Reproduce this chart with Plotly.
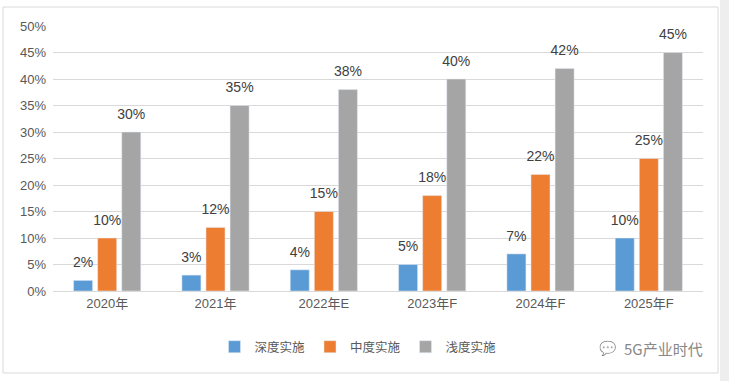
import plotly.graph_objects as go

categories = ["2020年", "2021年", "2022年E", "2023年F", "2024年F", "2025年F"]
deep = [0.02, 0.03, 0.04, 0.05, 0.07, 0.10]
medium = [0.10, 0.12, 0.15, 0.18, 0.22, 0.25]
shallow = [0.30, 0.35, 0.38, 0.40, 0.42, 0.45]
series_names = ["深度实施", "中度实施", "浅度实施"]
colors = ["#5B9BD5", "#ED7D31", "#A5A5A5"]
y_ticks = [0, 0.05, 0.10, 0.15, 0.20, 0.25, 0.30, 0.35, 0.40, 0.45, 0.50]

FONT = "Liberation Sans, Noto Sans CJK SC, sans-serif"

fig = go.Figure()
for i, (name, vals, c) in enumerate(zip(series_names, [deep, medium, shallow], colors)):
    fig.add_trace(go.Bar(
        x=categories, y=vals, name=name, marker_color=c,
        offsetgroup=str(i), alignmentgroup="a",
    ))
for i, vals in enumerate([deep, medium, shallow]):
    fig.add_trace(go.Scatter(
        x=categories, y=vals, mode="markers+text",
        text=[f"{round(v*100)}%" for v in vals], textposition="top center",
        textfont=dict(size=14, color="#404040", family=FONT),
        marker=dict(size=14, opacity=0),
        offsetgroup=str(i), alignmentgroup="a",
        showlegend=False, hoverinfo="skip", cliponaxis=False,
    ))

fig.update_layout(
    width=729, height=381,
    margin=dict(l=53, r=26, t=26, b=90),
    paper_bgcolor="white", plot_bgcolor="white",
    barmode="group", bargap=0.333, bargroupgap=0.21,
    scattermode="group", scattergap=0.333,
    font=dict(family=FONT, color="#595959", size=13),
    showlegend=True,
    legend=dict(orientation="h", x=(358-53)/650, xanchor="center", y=-0.155, yanchor="top",
                font=dict(size=12.5, color="#595959"), itemwidth=30,
                traceorder="normal"),
    xaxis=dict(showgrid=False, showline=True, linecolor="#D9D9D9", ticks="",
               tickfont=dict(size=13, color="#595959")),
    yaxis=dict(range=[0, 0.5], tickvals=y_ticks, tickformat=".0%",
               showgrid=True, gridcolor="#D9D9D9", zeroline=False, showline=False,
               tickfont=dict(size=13, color="#595959"), ticklabelstandoff=6),
)

# chart border
fig.add_shape(type="rect", xref="paper", yref="paper", x0=-50/650, x1=(718-53)/650,
              y0=-(373-291)/265, y1=(291-7)/265,
              line=dict(color="#D9D9D9", width=1), fillcolor="rgba(0,0,0,0)", layer="below")
# shadow at right edge
fig.add_shape(type="rect", xref="paper", yref="paper", x0=(720-53)/650, x1=(729-53)/650,
              y0=-(381-291)/265, y1=(291)/265,
              line=dict(width=0), fillcolor="#EEEEEE", layer="below")

fig.add_annotation(text="5G产业时代", xref="paper", yref="paper",
                   x=(705-53)/650, xanchor="right", y=-(348-291)/265, yanchor="middle",
                   showarrow=False, font=dict(size=15, color="#888888",
                                              family="Noto Sans CJK SC, sans-serif"))
fig.add_annotation(text="💬", xref="paper", yref="paper",
                   x=(608-53)/650, xanchor="center", y=-(348-291)/265, yanchor="middle",
                   showarrow=False, font=dict(size=14, color="#AAAAAA"), opacity=0.5)

fig.write_html("out.html", config={"displayModeBar": False},
               post_script="document.body.style.margin='0';")
